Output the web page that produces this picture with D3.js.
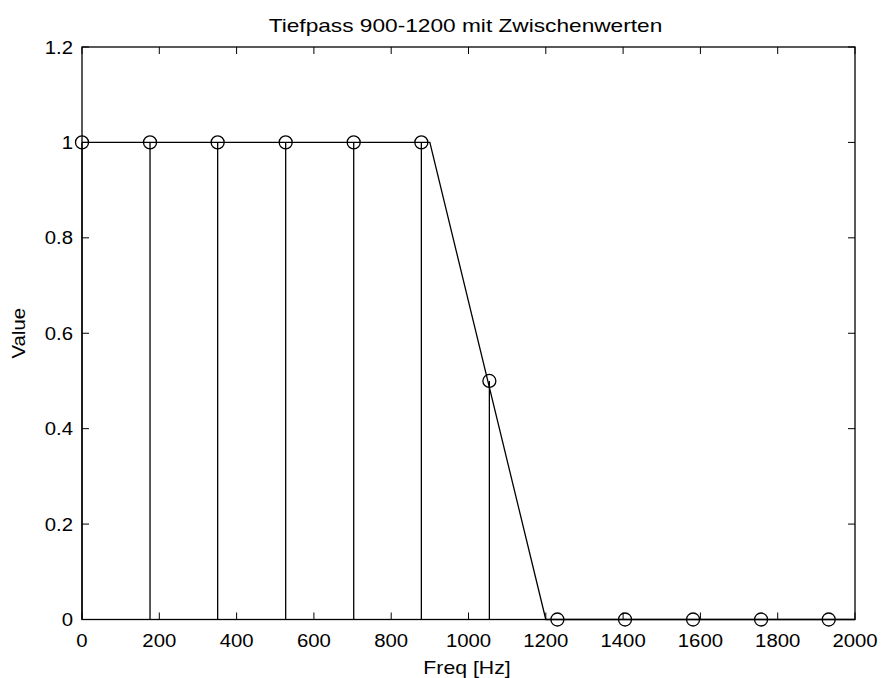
<!DOCTYPE html>
<html><head><meta charset="utf-8">
<script src="https://cdn.jsdelivr.net/npm/d3@7"></script>
<style>
body{margin:0;background:#fff;}
svg{display:block;}
text{font-family:"Liberation Sans",Arial,sans-serif;fill:#000;}
</style></head>
<body>
<script>
const stemFreqs = [0, 176, 351, 527, 703, 878, 1054, 1230, 1405, 1581, 1757, 1932];
const stemValues = [1, 1, 1, 1, 1, 1, 0.5, 0, 0, 0, 0, 0];
const lineFreqs = [0, 900, 1200, 2000];
const lineValues = [1, 1, 0, 0];
const xTicks = [0, 200, 400, 600, 800, 1000, 1200, 1400, 1600, 1800, 2000];
const yTicks = [0, 0.2, 0.4, 0.6, 0.8, 1, 1.2];
const titleText = "Tiefpass 900-1200 mit Zwischenwerten";
const xLabel = "Freq [Hz]";
const yLabel = "Value";

const W = 882, H = 678;
const L = 82, R = 855, T = 47, B = 619.5;
const svg = d3.select("body").append("svg").attr("width", W).attr("height", H);
const x = d3.scaleLinear().domain([0, 2000]).range([L, R]);
const y = d3.scaleLinear().domain([0, 1.2]).range([B, T]);
const fs = 18;

// frame
svg.append("rect").attr("x", L).attr("y", T).attr("width", R - L).attr("height", B - T)
  .attr("fill", "none").attr("stroke", "#000").attr("stroke-width", 1.3);

const tl = 7;
const ticks = svg.append("g").attr("stroke", "#000").attr("stroke-width", 1);
xTicks.forEach(t => {
  ticks.append("line").attr("x1", x(t)).attr("x2", x(t)).attr("y1", B).attr("y2", B - tl);
  ticks.append("line").attr("x1", x(t)).attr("x2", x(t)).attr("y1", T).attr("y2", T + tl);
});
yTicks.forEach(t => {
  ticks.append("line").attr("y1", y(t)).attr("y2", y(t)).attr("x1", L).attr("x2", L + tl);
  ticks.append("line").attr("y1", y(t)).attr("y2", y(t)).attr("x1", R).attr("x2", R - tl);
});

function txt(px, py, s, anchor, rot, sx) {
  const g = svg.append("g").attr("transform", `translate(${px},${py})` + (rot ? ` rotate(${rot})` : ""));
  g.append("text").attr("transform", `scale(${sx},1)`).attr("text-anchor", anchor)
    .attr("font-size", fs).text(s);
}
xTicks.forEach(t => txt(x(t), 647, d3.format("")(t), "middle", 0, 1.13));
yTicks.forEach(t => txt(73, y(t) + 6.5, String(t), "end", 0, 1.13));
txt(465.5, 31.5, titleText, "middle", 0, 1.26);
txt(467, 673.5, xLabel, "middle", 0, 1.18);
txt(25, (T + B) / 2, yLabel, "middle", -90, 1.13);

// line
svg.append("path").datum(lineFreqs.map((f, i) => [f, lineValues[i]]))
  .attr("fill", "none").attr("stroke", "#000").attr("stroke-width", 1.3)
  .attr("d", d3.line().x(d => x(d[0])).y(d => y(d[1])));

// stems
const pts = stemFreqs.map((f, i) => ({f, v: stemValues[i]}));
svg.append("g").selectAll("line").data(pts).join("line")
  .attr("x1", d => x(d.f)).attr("x2", d => x(d.f))
  .attr("y1", y(0)).attr("y2", d => y(d.v))
  .attr("stroke", "#000").attr("stroke-width", 1.3);
svg.append("g").selectAll("circle").data(pts).join("circle")
  .attr("cx", d => x(d.f)).attr("cy", d => y(d.v)).attr("r", 6.5)
  .attr("fill", "none").attr("stroke", "#000").attr("stroke-width", 1.3);
</script>
</body></html>
